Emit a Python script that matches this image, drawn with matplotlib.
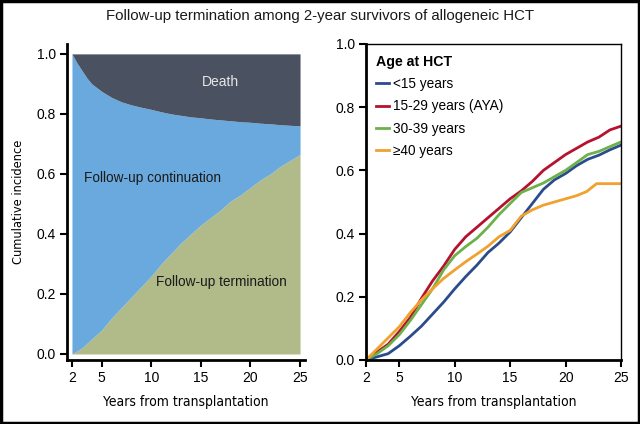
import matplotlib
matplotlib.use("Agg")
import matplotlib.pyplot as plt
from matplotlib.patches import Rectangle
from matplotlib import font_manager

plt.rcParams['font.family'] = ['Liberation Sans', 'DejaVu Sans']

# left panel: stacked cumulative incidence
years_left = [2, 2.5, 3, 3.5, 4, 5, 6, 7, 8, 9, 10, 11, 12, 13, 14, 15, 16, 17, 18, 19, 20, 21, 22, 23, 24, 25]
termination = [0.0, 0.01, 0.02, 0.035, 0.05, 0.08, 0.12, 0.155, 0.19, 0.225, 0.26, 0.30, 0.335, 0.37,
               0.40, 0.43, 0.455, 0.48, 0.51, 0.53, 0.555, 0.58, 0.60, 0.625, 0.645, 0.665]
alive_upper = [1.0, 0.97, 0.945, 0.92, 0.90, 0.875, 0.855, 0.84, 0.83, 0.822, 0.815, 0.807, 0.80, 0.795,
               0.79, 0.787, 0.783, 0.78, 0.777, 0.774, 0.772, 0.769, 0.767, 0.764, 0.762, 0.76]

# right panel: termination by age group
years_right = [2, 3, 4, 5, 6, 7, 8, 9, 10, 11, 12, 13, 14, 15, 16, 17, 18, 19, 20, 21, 22, 23, 24, 25]
under15 = [0.0, 0.01, 0.02, 0.045, 0.075, 0.107, 0.145, 0.183, 0.225, 0.264, 0.30, 0.34, 0.37, 0.405,
           0.45, 0.495, 0.54, 0.57, 0.59, 0.615, 0.635, 0.648, 0.665, 0.68]
aya = [0.0, 0.025, 0.05, 0.09, 0.135, 0.195, 0.25, 0.297, 0.35, 0.39, 0.42, 0.45, 0.48, 0.51,
       0.535, 0.565, 0.60, 0.625, 0.65, 0.67, 0.69, 0.705, 0.728, 0.74]
age30_39 = [0.0, 0.02, 0.045, 0.08, 0.125, 0.175, 0.225, 0.285, 0.33, 0.359, 0.385, 0.42, 0.46, 0.495,
            0.53, 0.545, 0.56, 0.58, 0.60, 0.625, 0.65, 0.66, 0.675, 0.69]
years_40 = [2, 3, 4, 5, 6, 7, 8, 9, 10, 11, 12, 13, 14, 15, 16, 17, 18, 19, 20, 21, 21.9, 22.8, 25]
over40 = [0.0, 0.035, 0.07, 0.105, 0.15, 0.19, 0.225, 0.258, 0.285, 0.311, 0.335, 0.36, 0.39, 0.41,
          0.455, 0.475, 0.49, 0.50, 0.51, 0.52, 0.533, 0.558, 0.558]

group_labels = ['<15 years', '15-29 years (AYA)', '30-39 years', '\u226540 years']
group_colors = ['#2b4c8c', '#b5122f', '#6cb14a', '#f0a12e']

# condensed face for the axis titles
xlab_font = font_manager.FontProperties(family='DejaVu Sans', stretch='condensed', size=10)
ylab_font = font_manager.FontProperties(family='DejaVu Sans', stretch='condensed', size=9.2)

fig = plt.figure(figsize=(6.4, 4.24), dpi=100)
fig.text(0.5, 0.962, 'Follow-up termination among 2-year survivors of allogeneic HCT',
         ha='center', va='center', fontsize=10.8, color='#1a1a1a')
fig.patches.append(Rectangle((0.002, 0.003), 0.996, 0.994, transform=fig.transFigure,
                             fill=False, edgecolor='black', linewidth=2.5))

# ---- left panel
ax1 = fig.add_axes([67 / 640, 0.151, 238 / 640, 316 / 424])
ax1.fill_between(years_left, 0, termination, color='#b0bb89', linewidth=0)
ax1.fill_between(years_left, termination, alive_upper, color='#6aa9dd', linewidth=0)
ax1.fill_between(years_left, alive_upper, 1.0, color='#4a5262', linewidth=0)
ax1.set_xlim(1.5, 25.5)
ax1.set_ylim(-0.02, 1.033)
ax1.set_yticks([0.0, 0.2, 0.4, 0.6, 0.8, 1.0])
ax1.set_yticklabels(['0.0', '0.2', '0.4', '0.6', '0.8', '1.0'])
ax1.set_ylabel('Cumulative incidence', fontproperties=ylab_font, labelpad=8)
ax1.text(17.0, 0.907, 'Death', color='#e6e6e6', fontsize=10, ha='center', va='center')
ax1.text(3.2, 0.585, 'Follow-up continuation', color='#1a1a1a', fontsize=9.8, ha='left', va='center')
ax1.text(17.1, 0.24, 'Follow-up termination', color='#1a1a1a', fontsize=9.8, ha='center', va='center')

# ---- right panel
ax2 = fig.add_axes([366 / 640, 0.151, 255 / 640, 316 / 424])
ax2.plot(years_right, under15, color=group_colors[0], linewidth=2, label=group_labels[0])
ax2.plot(years_right, aya, color=group_colors[1], linewidth=2, label=group_labels[1])
ax2.plot(years_right, age30_39, color=group_colors[2], linewidth=2, label=group_labels[2])
ax2.plot(years_40, over40, color=group_colors[3], linewidth=2, label=group_labels[3])
ax2.set_xlim(2, 25)
ax2.set_ylim(0, 1.0)
ax2.set_yticks([0.0, 0.2, 0.4, 0.6, 0.8, 1.0])
ax2.set_yticklabels(['0.0', '0.2', '0.4', '0.6', '0.8', '1.0'])
leg = ax2.legend(title='Age at HCT', loc='upper left', frameon=False, fontsize=9.8,
                 handlelength=1.0, handletextpad=0.3, labelspacing=0.6,
                 borderaxespad=0.3, bbox_to_anchor=(0.0, 0.995))
leg.get_title().set_fontweight('bold')
leg.get_title().set_fontsize(10.2)
leg._legend_box.align = 'left'

for ax in (ax1, ax2):
    ax.set_xticks([2, 5, 10, 15, 20, 25])
    ax.set_xlabel('Years from transplantation', fontproperties=xlab_font, labelpad=7)
    ax.tick_params(direction='out', length=5, width=1.5, labelsize=10, colors='black', pad=3)
    ax.spines['left'].set_linewidth(2)
    ax.spines['bottom'].set_linewidth(2)

ax1.spines['top'].set_visible(False)
ax1.spines['right'].set_visible(False)
ax2.spines['top'].set_linewidth(1)
ax2.spines['right'].set_linewidth(1)

fig.savefig('out.png', dpi=100)
